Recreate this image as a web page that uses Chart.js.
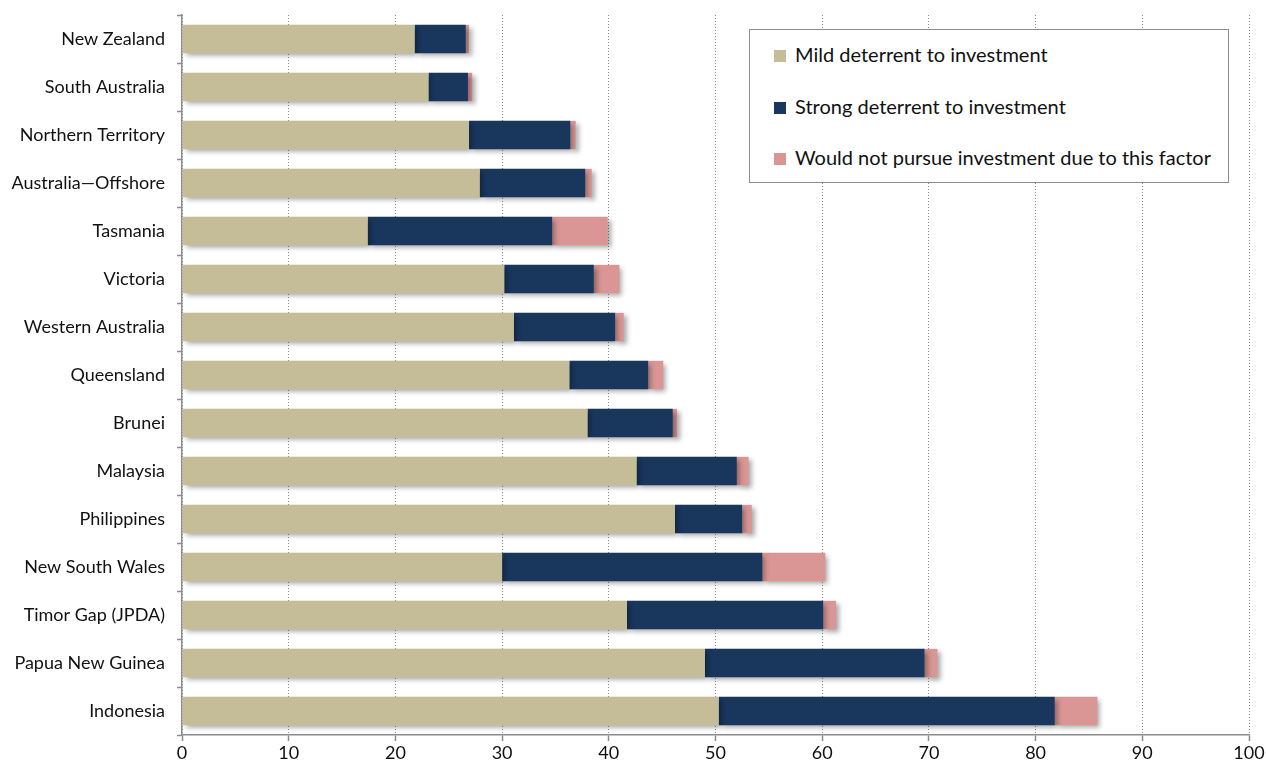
<!DOCTYPE html>
<html>
<head>
<meta charset="utf-8">
<script src="https://cdn.jsdelivr.net/npm/chart.js@4/dist/chart.umd.min.js"></script>
<style>
  html, body { margin: 0; padding: 0; background: #fff; }
  #wrap { position: relative; width: 1266px; height: 767px; }
  #legendBox {
    position: absolute; left: 749px; top: 29px; width: 478px; height: 152px;
    border: 1.5px solid #8c8c8c; background: #fff;
    font-family: "Lato", sans-serif; font-size: 20px; color: #111;
  }
  .legend-item { position: absolute; left: 24px; height: 20px; line-height: 20px; white-space: nowrap; }
  .legend-item span.swatch {
    display: inline-block; width: 12px; height: 12px; margin-right: 9px; vertical-align: 0px;
  }
</style>
</head>
<body>
<div id="wrap">
  <canvas id="deterrentChart" width="1266" height="767"></canvas>
  <div id="legendBox"></div>
</div>
<script>
const regions = [
    'New Zealand', 'South Australia', 'Northern Territory', 'Australia\u2014Offshore',
    'Tasmania', 'Victoria', 'Western Australia', 'Queensland', 'Brunei', 'Malaysia',
    'Philippines', 'New South Wales', 'Timor Gap (JPDA)', 'Papua New Guinea', 'Indonesia'
];
const mildDeterrent   = [21.8, 23.1, 26.9, 27.9, 17.4, 30.2, 31.1, 36.3, 38.0, 42.6, 46.2, 30.0, 41.7, 49.0, 50.3];
const strongDeterrent = [4.8, 3.7, 9.5, 9.9, 17.3, 8.4, 9.5, 7.4, 8.0, 9.4, 6.3, 24.4, 18.4, 20.6, 31.5];
const wouldNotPursue  = [0.3, 0.4, 0.5, 0.6, 5.2, 2.4, 0.8, 1.4, 0.4, 1.1, 0.9, 5.9, 1.2, 1.2, 4.0];
const xTicks = [0, 10, 20, 30, 40, 50, 60, 70, 80, 90, 100];

const seriesNames = [
    'Mild deterrent to investment',
    'Strong deterrent to investment',
    'Would not pursue investment due to this factor'
];
const seriesColors = ['#c4bd98', '#19365d', '#d99694'];

const FONT = '"Lato", sans-serif';

// soft drop shadow under the bar segments
const barShadow = {
    id: 'barShadow',
    beforeDatasetsDraw(chart) {
        const ctx = chart.ctx;
        ctx.save();
        ctx.shadowColor = 'rgba(0,0,0,0.35)';
        ctx.shadowBlur = 5;
        ctx.shadowOffsetX = 3;
        ctx.shadowOffsetY = 3;
    },
    afterDatasetsDraw(chart) {
        chart.ctx.restore();
    }
};

// keep the plot box fixed, no extra room for overhanging labels
function noScalePadding(s) {
    s.paddingTop = 0;
    s.paddingBottom = 0;
    s.paddingLeft = 0;
    s.paddingRight = 0;
}

const ctx = document.getElementById('deterrentChart').getContext('2d');
const chart = new Chart(ctx, {
    type: 'bar',
    data: {
        labels: regions,
        datasets: [mildDeterrent, strongDeterrent, wouldNotPursue].map((d, i) => ({
            label: seriesNames[i],
            data: d,
            backgroundColor: seriesColors[i],
            borderWidth: 0,
            categoryPercentage: 1,
            barPercentage: 0.59
        }))
    },
    plugins: [barShadow],
    options: {
        indexAxis: 'y',
        responsive: false,
        animation: false,
        layout: { padding: { top: 15, right: 17, left: 0, bottom: 0 } },
        plugins: {
            legend: { display: false },
            tooltip: { enabled: false }
        },
        scales: {
            x: {
                stacked: true,
                min: 0,
                max: 100,
                afterBuildTicks: s => { s.ticks = xTicks.map(v => ({ value: v })); },
                afterFit: s => { s.height = 32; noScalePadding(s); },
                border: { display: true, color: '#8c8c8c', width: 1.5, dash: [1, 2] },
                grid: {
                    color: '#8a8a8a',
                    lineWidth: 1,
                    tickLength: 6,
                    tickColor: '#8c8c8c',
                    tickBorderDash: [],
                    tickWidth: 1.5
                },
                ticks: {
                    padding: 1,
                    color: '#111',
                    font: { family: FONT, size: 18 },
                    maxRotation: 0
                }
            },
            y: {
                stacked: true,
                afterFit: s => { s.width = 182; noScalePadding(s); },
                border: { display: true, color: '#8c8c8c', width: 1.5 },
                grid: {
                    offset: true,
                    drawOnChartArea: false,
                    tickLength: 5,
                    tickColor: '#8c8c8c',
                    tickWidth: 1.5
                },
                ticks: {
                    padding: 12,
                    color: '#111',
                    font: { family: FONT, size: 18 }
                }
            }
        }
    }
});

// legend drawn as html inside the plot
const legendBox = document.getElementById('legendBox');
seriesNames.forEach((name, i) => {
    const item = document.createElement('div');
    item.className = 'legend-item';
    item.style.top = (14 + i * 51.5) + 'px';
    const sw = document.createElement('span');
    sw.className = 'swatch';
    sw.style.background = seriesColors[i];
    item.appendChild(sw);
    item.appendChild(document.createTextNode(name));
    legendBox.appendChild(item);
});
</script>
</body>
</html>
